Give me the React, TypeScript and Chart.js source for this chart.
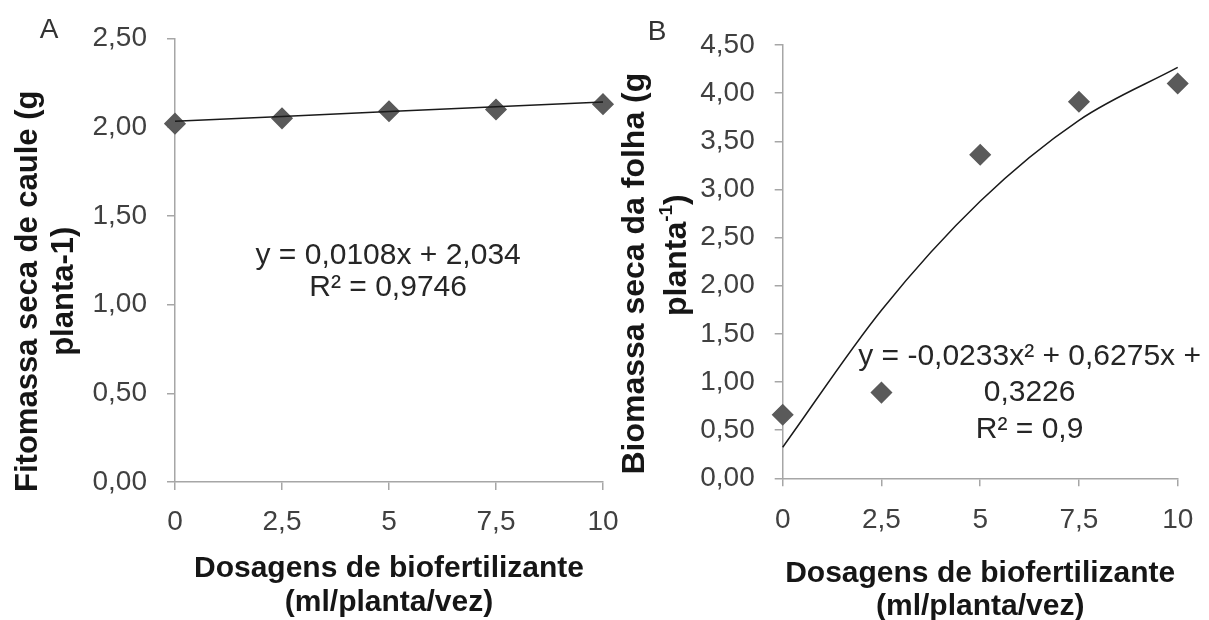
import React, { useEffect, useRef } from 'react';
import { Chart, registerables } from 'chart.js';

Chart.register(...registerables);

// ---------- data ----------
const doses = [0, 2.5, 5, 7.5, 10];
const xTickValues = [0, 2.5, 5, 7.5, 10];
const xTickLabels = ['0', '2,5', '5', '7,5', '10'];

// Panel A – stem dry mass
const caule = [2.02, 2.05, 2.09, 2.1, 2.13];
const caulePoly = [2.034, 0.0108]; // y = c0 + c1·x
const cauleYTickValues = [0, 0.5, 1, 1.5, 2, 2.5];
const cauleYTickLabels = ['0,00', '0,50', '1,00', '1,50', '2,00', '2,50'];

// Panel B – leaf dry mass
const folha = [0.66, 0.89, 3.36, 3.91, 4.1];
const folhaPoly = [0.3226, 0.6275, -0.0233]; // y = c0 + c1·x + c2·x²
const folhaYTickValues = [0, 0.5, 1, 1.5, 2, 2.5, 3, 3.5, 4, 4.5];
const folhaYTickLabels = ['0,00', '0,50', '1,00', '1,50', '2,00', '2,50', '3,00', '3,50', '4,00', '4,50'];

const FONT = "'Liberation Sans', Arial, Helvetica, sans-serif";
const AXIS = '#a6a6a6';
const TICK_TEXT = '#404040';
const TITLE_TEXT = '#161616';
const MARK = '#5a5a5a';

const evalPoly = (c: number[], x: number) => c.reduce((s, k, i) => s + k * Math.pow(x, i), 0);

type Seg = { t: string; sup?: boolean };

function drawSegs(ctx: CanvasRenderingContext2D, segs: Seg[], size: number, weight: string, color: string) {
  const fontFor = (s: Seg) => `${weight} ${s.sup ? Math.round(size * 0.6) : size}px ${FONT}`;
  let total = 0;
  const widths = segs.map((s) => {
    ctx.font = fontFor(s);
    const w = ctx.measureText(s.t).width;
    total += w;
    return w;
  });
  let x = -total / 2;
  ctx.textAlign = 'left';
  ctx.textBaseline = 'middle';
  ctx.fillStyle = color;
  segs.forEach((s, i) => {
    ctx.font = fontFor(s);
    ctx.fillText(s.t, x, s.sup ? -size * 0.32 : 0);
    x += widths[i];
  });
}

interface PanelText {
  letter: { text: string; x: number; y: number };
  yTitle: { lines: Seg[][]; xs: number[]; dy: number[]; size: number };
  note: { lines: Seg[][]; x: number; y: number; lineHeight: number; size: number };
}

function makeTextPlugin(cfg: PanelText) {
  return {
    id: 'panelText',
    afterDraw(chart: any) {
      const { ctx, chartArea, scales } = chart;
      ctx.save();
      // panel letter
      ctx.font = `28px ${FONT}`;
      ctx.fillStyle = '#333333';
      ctx.textAlign = 'center';
      ctx.textBaseline = 'middle';
      ctx.fillText(cfg.letter.text, cfg.letter.x, cfg.letter.y);
      // y-axis title (rotated)
      const cy = (chartArea.top + chartArea.bottom) / 2;
      cfg.yTitle.lines.forEach((line, i) => {
        ctx.save();
        ctx.translate(cfg.yTitle.xs[i], cy + cfg.yTitle.dy[i]);
        ctx.rotate(-Math.PI / 2);
        drawSegs(ctx, line, cfg.yTitle.size, 'bold', TITLE_TEXT);
        ctx.restore();
      });
      // equation note (anchored in data units)
      const nx = scales.x.getPixelForValue(cfg.note.x);
      const ny = scales.y.getPixelForValue(cfg.note.y);
      cfg.note.lines.forEach((line, i) => {
        ctx.save();
        ctx.translate(nx, ny + i * cfg.note.lineHeight);
        drawSegs(ctx, line, cfg.note.size, 'normal', '#262626');
        ctx.restore();
      });
      ctx.restore();
    },
  };
}

interface PanelCfg {
  values: number[];
  poly: number[];
  yMax: number;
  yTickValues: number[];
  yTickLabels: string[];
  padding: { left: number; top: number; right: number; bottom: number };
  yWidth: number;
  xHeight: number;
  xTickPad: number;
  xTitleLineHeight: number;
  xTitlePadBottom: number;
  smooth: boolean;
  text: PanelText;
}

function buildConfig(p: PanelCfg): any {
  const gridOpts = {
    drawOnChartArea: false,
    drawTicks: true,
    tickLength: 8,
    color: AXIS,
    lineWidth: 1.5,
  };
  return {
    type: 'scatter',
    data: {
      datasets: [
        {
          type: 'line',
          data: doses.map((x) => ({ x, y: evalPoly(p.poly, x) })),
          borderColor: '#1a1a1a',
          borderWidth: 1.5,
          pointRadius: 0,
          fill: false,
          cubicInterpolationMode: p.smooth ? 'monotone' : 'default',
          tension: 0,
          clip: false,
          order: 0,
        },
        {
          type: 'scatter',
          data: doses.map((x, i) => ({ x, y: p.values[i] })),
          pointStyle: 'rectRot',
          pointRadius: 10,
          pointHoverRadius: 10,
          backgroundColor: MARK,
          borderColor: MARK,
          borderWidth: 1.5,
          clip: false,
          order: 1,
        },
      ],
    },
    options: {
      animation: false,
      responsive: false,
      maintainAspectRatio: false,
      devicePixelRatio: 1,
      events: [],
      layout: { padding: p.padding },
      plugins: { legend: { display: false }, tooltip: { enabled: false }, title: { display: false } },
      scales: {
        x: {
          type: 'linear',
          min: 0,
          max: 10,
          afterBuildTicks: (s: any) => {
            s.ticks = xTickValues.map((v) => ({ value: v }));
          },
          afterFit: (s: any) => {
            s.height = p.xHeight;
          },
          ticks: {
            autoSkip: false,
            maxRotation: 0,
            padding: p.xTickPad,
            color: TICK_TEXT,
            font: { family: FONT, size: 28 },
            callback: (_v: any, i: number) => xTickLabels[i],
          },
          grid: gridOpts,
          border: { display: true, color: AXIS, width: 1.5 },
          title: {
            display: true,
            text: ['Dosagens de biofertilizante', '(ml/planta/vez)'],
            color: TITLE_TEXT,
            font: { family: FONT, size: 30, weight: 'bold', lineHeight: p.xTitleLineHeight / 30 },
            padding: { top: 0, bottom: p.xTitlePadBottom },
          },
        },
        y: {
          type: 'linear',
          min: 0,
          max: p.yMax,
          afterBuildTicks: (s: any) => {
            s.ticks = p.yTickValues.map((v) => ({ value: v }));
          },
          afterFit: (s: any) => {
            s.width = p.yWidth;
          },
          ticks: {
            autoSkip: false,
            padding: 20,
            color: TICK_TEXT,
            font: { family: FONT, size: 28 },
            callback: (_v: any, i: number) => p.yTickLabels[i],
          },
          grid: gridOpts,
          border: { display: true, color: AXIS, width: 1.5 },
          title: { display: false },
        },
      },
    },
    plugins: [makeTextPlugin(p.text)],
  };
}

const PANEL_W = 660;

const panelA: PanelCfg = {
  values: caule,
  poly: caulePoly,
  yMax: 2.5,
  yTickValues: cauleYTickValues,
  yTickLabels: cauleYTickLabels,
  padding: { left: 0, top: 38.5, right: PANEL_W - 603, bottom: 0 },
  yWidth: 175,
  xHeight: 138,
  xTickPad: 15,
  xTitleLineHeight: 34,
  xTitlePadBottom: 0,
  smooth: false,
  text: {
    letter: { text: 'A', x: 49, y: 30 },
    yTitle: {
      lines: [[{ t: 'Fitomassa seca de caule (g' }], [{ t: 'planta-1)' }]],
      xs: [28.5, 64],
      dy: [31, 31],
      size: 31,
    },
    note: {
      lines: [[{ t: 'y = 0,0108x + 2,034' }], [{ t: 'R² = 0,9746' }]],
      x: 4.98,
      y: 1.277,
      lineHeight: 32,
      size: 30,
    },
  },
};

const panelB: PanelCfg = {
  values: folha,
  poly: folhaPoly,
  yMax: 4.5,
  yTickValues: folhaYTickValues,
  yTickLabels: folhaYTickLabels,
  padding: { left: 0, top: 45, right: PANEL_W - 577.7, bottom: 0 },
  yWidth: 182.7,
  xHeight: 141.7,
  xTickPad: 17,
  xTitleLineHeight: 33,
  xTitlePadBottom: -3.5,
  smooth: true,
  text: {
    letter: { text: 'B', x: 57, y: 32 },
    yTitle: {
      lines: [[{ t: 'Biomassa seca da folha (g' }], [{ t: 'planta' }, { t: '-1', sup: true }, { t: ')' }]],
      xs: [35, 77.5],
      dy: [12, -6.5],
      size: 32,
    },
    note: {
      lines: [[{ t: 'y = -0,0233x² + 0,6275x +' }], [{ t: '0,3226' }], [{ t: 'R² = 0,9' }]],
      x: 6.25,
      y: 1.265,
      lineHeight: 36.5,
      size: 30,
    },
  },
};

function ChartPanel({ left, width, cfg }: { left: number; width: number; cfg: PanelCfg }) {
  const ref = useRef<HTMLCanvasElement>(null);
  useEffect(() => {
    if (!ref.current) return;
    const chart = new Chart(ref.current, buildConfig(cfg));
    return () => chart.destroy();
  }, [cfg]);
  return (
    <canvas
      ref={ref}
      width={width}
      height={620}
      style={{ position: 'absolute', left, top: 0, width, height: 620, display: 'block' }}
    />
  );
}

export default function App() {
  return (
    <div
      style={{
        position: 'fixed',
        left: 0,
        top: 0,
        width: 1209,
        height: 620,
        background: '#ffffff',
        overflow: 'hidden',
      }}
    >
      <ChartPanel left={0} width={PANEL_W} cfg={panelA} />
      <ChartPanel left={600} width={PANEL_W} cfg={panelB} />
    </div>
  );
}
